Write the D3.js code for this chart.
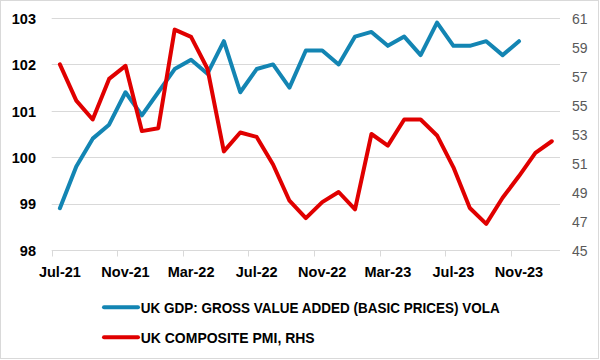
<!DOCTYPE html>
<html>
<head>
<meta charset="utf-8">
<script src="https://cdn.jsdelivr.net/npm/d3@7"></script>
<style>
  html, body { margin: 0; padding: 0; background: #fff; }
  svg { display: block; }
</style>
</head>
<body>
<svg id="chart" width="600" height="360"></svg>
<script>
const months = ["Jul-21","Aug-21","Sep-21","Oct-21","Nov-21","Dec-21",
  "Jan-22","Feb-22","Mar-22","Apr-22","May-22","Jun-22","Jul-22","Aug-22","Sep-22","Oct-22","Nov-22","Dec-22",
  "Jan-23","Feb-23","Mar-23","Apr-23","May-23","Jun-23","Jul-23","Aug-23","Sep-23","Oct-23","Nov-23","Dec-23",
  "Jan-24"];
const gdpValues = [98.9, 99.8, 100.4, 100.7, 101.4, 100.9, 101.4, 101.9, 102.1, 101.8, 102.5, 101.4,
  101.9, 102.0, 101.5, 102.3, 102.3, 102.0, 102.6, 102.7, 102.4, 102.6, 102.2, 102.9, 102.4, 102.4,
  102.5, 102.2, 102.5];
const pmiValues = [57.8, 55.3, 54.0, 56.8, 57.7, 53.2, 53.4, 60.2, 59.7, 57.5, 51.8, 53.1, 52.8, 50.9,
  48.4, 47.2, 48.3, 49.0, 47.8, 53.0, 52.2, 54.0, 54.0, 52.9, 50.7, 47.9, 46.8, 48.6, 50.1, 51.7, 52.5];
const xTickLabels = ["Jul-21","Nov-21","Mar-22","Jul-22","Nov-22","Mar-23","Jul-23","Nov-23"];
const leftTicks = [98, 99, 100, 101, 102, 103];
const rightTicks = [45, 47, 49, 51, 53, 55, 57, 59, 61];
const seriesNames = ["UK GDP: GROSS VALUE ADDED (BASIC PRICES) VOLA", "UK COMPOSITE PMI, RHS"];

const svg = d3.select("#chart");
const W = 600, H = 360;
const plotLeft = 51.7, plotRight = 560, plotTop = 18, plotBottom = 250;
const blue = "#1385B3", red = "#E00000", grid = "#D9D9D9";
const font = "'Liberation Sans', Arial, sans-serif";

// outer border
svg.append("rect").attr("x", 0.5).attr("y", 0.5).attr("width", W - 2).attr("height", H - 2)
  .attr("fill", "#fff").attr("stroke", grid);

const x = d3.scaleBand().domain(months).range([plotLeft, plotRight]).padding(0);
const xc = m => x(m) + x.bandwidth() / 2;
const yL = d3.scaleLinear().domain([98, 103]).range([plotBottom, plotTop]);
const yR = d3.scaleLinear().domain([45, 61]).range([plotBottom, plotTop]);

// gridlines
svg.append("g").selectAll("line").data(leftTicks.slice(1)).join("line")
  .attr("x1", plotLeft).attr("x2", plotRight)
  .attr("y1", d => Math.round(yL(d)) + 0.5).attr("y2", d => Math.round(yL(d)) + 0.5)
  .attr("stroke", grid).attr("stroke-width", 1);

// bottom axis line & ticks
const xAxisG = svg.append("g").attr("transform", `translate(0,${Math.round(plotBottom) + 0.5})`);
xAxisG.append("line").attr("x1", plotLeft).attr("x2", plotRight).attr("stroke", grid);
xAxisG.selectAll("line.tk").data(xTickLabels).join("line").attr("class", "tk")
  .attr("x1", d => Math.round(x(d)) + 0.5).attr("x2", d => Math.round(x(d)) + 0.5)
  .attr("y1", 0).attr("y2", 6).attr("stroke", grid);

// x labels via axis
const xAxis = d3.axisBottom(x).tickValues(xTickLabels).tickSize(0).tickPadding(0);
const xa = svg.append("g").attr("transform", `translate(0,${plotBottom})`).call(xAxis);
xa.select(".domain").remove();
xa.selectAll("text").attr("y", 26.5).attr("dy", 0)
  .attr("font-family", font).attr("font-size", 14.5).attr("font-weight", "bold").attr("fill", "#000");

// left axis
const yAxisL = d3.axisLeft(yL).tickValues(leftTicks).tickFormat(d3.format("d")).tickSize(0).tickPadding(0);
const la = svg.append("g").attr("transform", `translate(36,0)`).call(yAxisL);
la.select(".domain").remove();
la.selectAll("text").attr("x", 0).attr("dy", "0.36em")
  .attr("font-family", font).attr("font-size", 14.5).attr("font-weight", "bold").attr("fill", "#000");

// right axis
const yAxisR = d3.axisRight(yR).tickValues(rightTicks).tickFormat(d3.format("d")).tickSize(0).tickPadding(0);
const ra = svg.append("g").attr("transform", `translate(572,0)`).call(yAxisR);
ra.select(".domain").remove();
ra.selectAll("text").attr("x", 0).attr("dy", "0.36em")
  .attr("font-family", font).attr("font-size", 14).attr("fill", "#595959");

// lines
const lineL = d3.line().x((d, i) => xc(months[i])).y(d => yL(d));
const lineR = d3.line().x((d, i) => xc(months[i])).y(d => yR(d));
svg.append("path").datum(gdpValues).attr("d", lineL)
  .attr("fill", "none").attr("stroke", blue).attr("stroke-width", 4)
  .attr("stroke-linejoin", "round").attr("stroke-linecap", "round");
svg.append("path").datum(pmiValues).attr("d", lineR)
  .attr("fill", "none").attr("stroke", red).attr("stroke-width", 4)
  .attr("stroke-linejoin", "round").attr("stroke-linecap", "round");

// legend
const legendItems = [
  {name: seriesNames[0], color: blue, y: 307.3, w: 359},
  {name: seriesNames[1], color: red, y: 337.3, w: 174}
];
const lg = svg.append("g");
legendItems.forEach(it => {
  lg.append("line").attr("x1", 104).attr("x2", 138).attr("y1", it.y).attr("y2", it.y)
    .attr("stroke", it.color).attr("stroke-width", 4).attr("stroke-linecap", "round");
  lg.append("text").attr("x", 140.7).attr("y", it.y + 5.5)
    .attr("font-family", font).attr("font-size", 15).attr("font-weight", "bold").attr("fill", "#000")
    .attr("textLength", it.w).attr("lengthAdjust", "spacingAndGlyphs")
    .text(it.name);
});
</script>
</body>
</html>
